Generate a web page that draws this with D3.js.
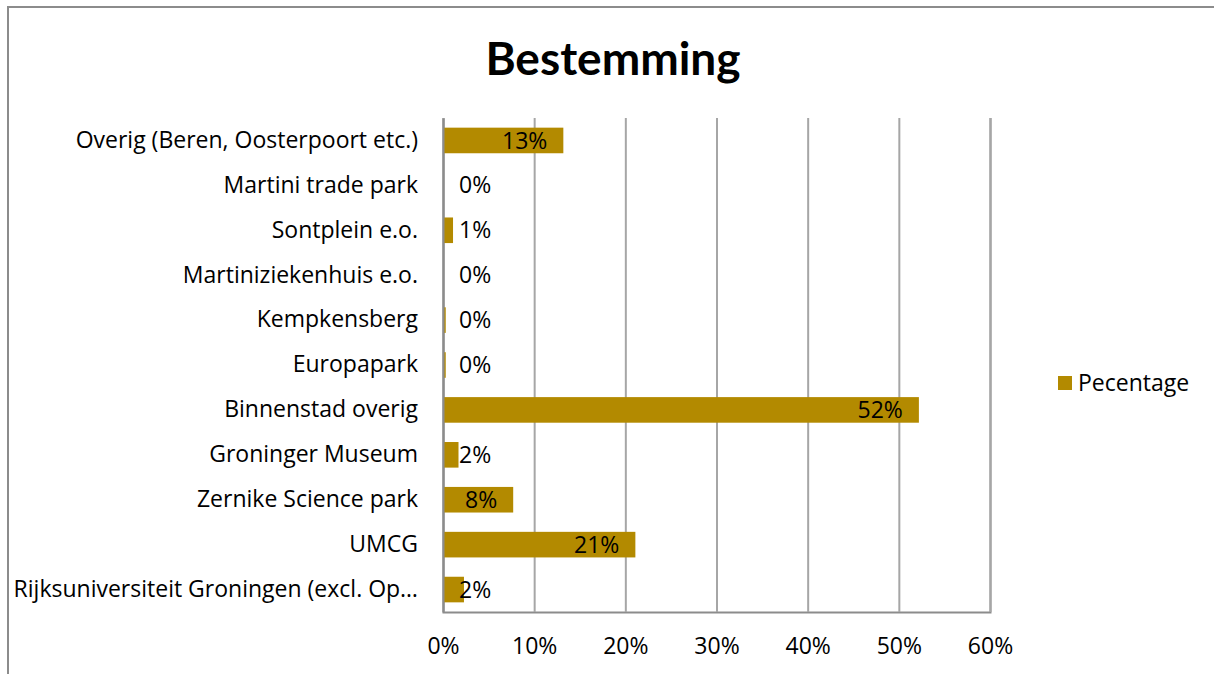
<!DOCTYPE html>
<html><head><meta charset="utf-8">
<script src="https://cdn.jsdelivr.net/npm/d3@7"></script>
<style>body{margin:0;background:#fff}svg{display:block}</style>
</head><body>
<script>
const categories = ["Overig (Beren, Oosterpoort etc.)","Martini trade park","Sontplein e.o.","Martiniziekenhuis e.o.","Kempkensberg","Europapark","Binnenstad overig","Groninger Museum","Zernike Science park","UMCG","Rijksuniversiteit Groningen (excl. Op…"];
const values = [13.2, 0, 1.1, 0, 0.3, 0.3, 52.2, 1.7, 7.7, 21.1, 2.3];
const labels = ["13%","0%","1%","0%","0%","0%","52%","2%","8%","21%","2%"];
const xTicks = [0,10,20,30,40,50,60];
const seriesName = "Pecentage";

const W=1214,H=674,FS=23,FF='"Open Sans",sans-serif';
const svg=d3.select("body").append("svg").attr("width",W).attr("height",H).style("font-family",FF);
const color="#b38a00", grid="#a6a6a6";
svg.append("path").attr("d","M8,"+H+"V7H"+W).attr("fill","none").attr("stroke","#8c8c8c").attr("stroke-width",2);

const L=443,R=990,T=118,B=612;
const x=d3.scaleLinear().domain([0,60]).range([L,R]);
const y=d3.scaleBand().domain(categories).range([T,B]).paddingInner(0.43).paddingOuter(0.215);

svg.append("text").attr("x",613).attr("y",75).attr("text-anchor","middle").style("font-weight","bold").style("font-size","46px").style("font-family","Lato").attr("fill","#000").text("Bestemming");

const gx=svg.append("g").attr("transform",`translate(0,${B})`).call(d3.axisBottom(x).tickValues(xTicks).tickSize(-(B-T)).tickFormat(d=>d+"%"));
gx.select(".domain").attr("stroke","#8c8c8c").attr("stroke-width",2);
gx.selectAll(".tick line").attr("stroke",grid).attr("stroke-width",2);
gx.selectAll(".tick text").style("font-size",FS+"px").style("font-family",FF).attr("fill","#000").attr("y",34).attr("dy","0.35em");

svg.selectAll("rect.bar").data(values).join("rect").attr("class","bar")
 .attr("x",x(0)).attr("y",(d,i)=>y(categories[i])).attr("width",d=>x(d)-x(0)).attr("height",y.bandwidth()).attr("fill",color);

const gy=svg.append("g").attr("transform",`translate(${L},0)`).call(d3.axisLeft(y).tickSize(0).tickPadding(25));
gy.select(".domain").attr("stroke","#8c8c8c").attr("stroke-width",2);
gy.selectAll(".tick text").style("font-size",FS+"px").style("font-family",FF).attr("fill","#000");

const lab=svg.selectAll("text.lab").data(values).join("text").attr("class","lab")
 .attr("y",(d,i)=>y(categories[i])+y.bandwidth()/2).attr("dy","0.35em").attr("text-anchor","end")
 .style("font-size",FS+"px").attr("fill","#000").text((d,i)=>labels[i]);
lab.each(function(d){const w=this.getComputedTextLength();d3.select(this).attr("x",Math.max(x(d)-16,x(0)+16+w));});

const lg=svg.append("g");
lg.append("rect").attr("x",1058).attr("y",376).attr("width",14).attr("height",14).attr("fill",color);
lg.append("text").attr("x",1078).attr("y",383).attr("dy","0.35em").style("font-size",FS+"px").attr("fill","#000").text(seriesName);
</script>
</body></html>
